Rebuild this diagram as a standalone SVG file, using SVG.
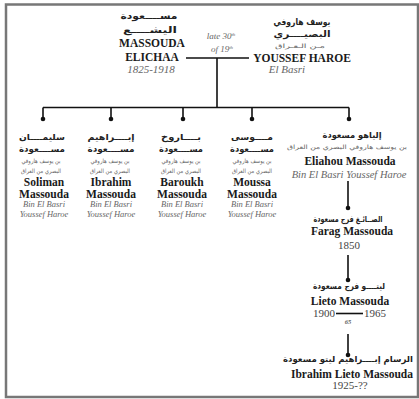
<svg xmlns="http://www.w3.org/2000/svg" width="419" height="399" viewBox="0 0 419 399">
<defs>
<marker id="dot" viewBox="0 0 6 6" refX="3" refY="3" markerWidth="6" markerHeight="6" markerUnits="userSpaceOnUse">
<circle cx="3" cy="3" r="2.3" fill="#111"/>
</marker>
<style>
text{text-anchor:middle}
.ar{font-family:"DejaVu Sans",sans-serif;fill:#222;font-weight:bold}
.ars{font-family:"DejaVu Sans",sans-serif;fill:#666;font-size:6px}
.nm{font-family:"Liberation Serif",serif;font-weight:bold;font-size:11.5px;fill:#1a1a1a}
.it{font-family:"Liberation Serif",serif;font-style:italic;fill:#666}
.yr{font-family:"Liberation Serif",serif;fill:#444;font-size:11px}
.ln{stroke:#111;stroke-width:1.6;fill:none}
.dl{stroke:#111;stroke-width:1.6;fill:none;marker-end:url(#dot)}
</style>
</defs>
<rect x="0" y="0" width="419" height="399" fill="#fff"/>
<rect x="6" y="4.5" width="412" height="392.5" fill="none" stroke="#777" stroke-width="2.5"/>

<g id="connectors">
<path class="ln" d="M186 58H249M217 58V107.5M43 107.5H349"/>
<path class="dl" d="M43 107.5V119"/>
<path class="dl" d="M111 107.5V119"/>
<path class="dl" d="M183 107.5V119"/>
<path class="dl" d="M252 107.5V119"/>
<path class="dl" d="M349 107.5V119"/>
<path class="dl" d="M348 181V208"/>
<path class="dl" d="M348 255V280"/>
<path class="dl" d="M348 334V355"/>
</g>

<g id="marriage-note">
<text class="it" x="221" y="39" font-size="9">late 30<tspan font-size="5" dy="-3">th</tspan></text>
<text class="it" x="222" y="52" font-size="9">of 19<tspan font-size="5" dy="-3">th</tspan></text>
</g>

<g id="massouda-elichaa">
<text class="ar" x="149" y="19" font-size="9" textLength="57" lengthAdjust="spacingAndGlyphs">مســــعودة</text>
<text class="ar" x="150" y="33" font-size="9" textLength="54" lengthAdjust="spacingAndGlyphs">اليشــــع</text>
<text class="nm" x="152" y="47">MASSOUDA</text>
<text class="nm" x="152" y="61">ELICHAA</text>
<text class="it" x="151" y="73" font-size="11">1825-1918</text>
</g>

<g id="youssef-haroe">
<text class="ar" x="302" y="25" font-size="9" textLength="57" lengthAdjust="spacingAndGlyphs">يوسف هاروفي</text>
<text class="ar" x="302" y="37" font-size="9" textLength="57" lengthAdjust="spacingAndGlyphs">البصيــــري</text>
<text class="ars" x="300" y="48" textLength="50" lengthAdjust="spacingAndGlyphs">مـن الـعـراق</text>
<text class="nm" x="302" y="62">YOUSSEF HAROE</text>
<text class="it" x="287" y="73" font-size="11">El Basri</text>
</g>

<g id="soliman">
<text class="ar" x="42" y="140" font-size="8.5" textLength="46" lengthAdjust="spacingAndGlyphs">سليمــــان</text>
<text class="ar" x="42" y="152" font-size="8.5" textLength="46" lengthAdjust="spacingAndGlyphs">مســــعودة</text>
<text class="ars" x="41" y="163" textLength="39" lengthAdjust="spacingAndGlyphs">بن يوسف هاروفي</text>
<text class="ars" x="41" y="173" textLength="40" lengthAdjust="spacingAndGlyphs">البصري من العراق</text>
<text class="nm" x="44" y="186">Soliman</text>
<text class="nm" x="44" y="198">Massouda</text>
<text class="it" x="44" y="207" font-size="8.5">Bin El Basri</text>
<text class="it" x="44" y="217" font-size="8.5">Youssef Haroe</text>
</g>

<g id="ibrahim">
<text class="ar" x="111" y="140" font-size="8.5" textLength="47" lengthAdjust="spacingAndGlyphs">إبــــراهيم</text>
<text class="ar" x="111" y="152" font-size="8.5" textLength="47" lengthAdjust="spacingAndGlyphs">مســــعودة</text>
<text class="ars" x="110" y="163" textLength="39" lengthAdjust="spacingAndGlyphs">بن يوسف هاروفي</text>
<text class="ars" x="110" y="173" textLength="40" lengthAdjust="spacingAndGlyphs">البصري من العراق</text>
<text class="nm" x="111" y="186">Ibrahim</text>
<text class="nm" x="111" y="198">Massouda</text>
<text class="it" x="111" y="207" font-size="8.5">Bin El Basri</text>
<text class="it" x="111" y="217" font-size="8.5">Youssef Haroe</text>
</g>

<g id="baroukh">
<text class="ar" x="181" y="140" font-size="8.5" textLength="40" lengthAdjust="spacingAndGlyphs">بــــاروخ</text>
<text class="ar" x="181" y="152" font-size="8.5" textLength="44" lengthAdjust="spacingAndGlyphs">مســــعودة</text>
<text class="ars" x="181" y="163" textLength="39" lengthAdjust="spacingAndGlyphs">بن يوسف هاروفي</text>
<text class="ars" x="181" y="173" textLength="40" lengthAdjust="spacingAndGlyphs">البصري من العراق</text>
<text class="nm" x="182" y="186">Baroukh</text>
<text class="nm" x="182" y="198">Massouda</text>
<text class="it" x="182" y="207" font-size="8.5">Bin El Basri</text>
<text class="it" x="182" y="217" font-size="8.5">Youssef Haroe</text>
</g>

<g id="moussa">
<text class="ar" x="252" y="140" font-size="8.5" textLength="42" lengthAdjust="spacingAndGlyphs">مــــوسى</text>
<text class="ar" x="252" y="152" font-size="8.5" textLength="44" lengthAdjust="spacingAndGlyphs">مســــعودة</text>
<text class="ars" x="252" y="163" textLength="39" lengthAdjust="spacingAndGlyphs">بن يوسف هاروفي</text>
<text class="ars" x="252" y="173" textLength="40" lengthAdjust="spacingAndGlyphs">البصري من العراق</text>
<text class="nm" x="252" y="186">Moussa</text>
<text class="nm" x="252" y="198">Massouda</text>
<text class="it" x="252" y="207" font-size="8.5">Bin El Basri</text>
<text class="it" x="252" y="217" font-size="8.5">Youssef Haroe</text>
</g>

<g id="eliahou">
<text class="ar" x="352" y="138" font-size="8.5" textLength="59" lengthAdjust="spacingAndGlyphs">إلياهو مسعودة</text>
<text class="ars" x="347" y="149" textLength="120" lengthAdjust="spacingAndGlyphs">بن يوسف هاروفي البصري  من العراق</text>
<text class="nm" x="350" y="165">Eliahou Massouda</text>
<text class="it" x="349" y="178" font-size="10.5">Bin  El Basri Youssef Haroe</text>
</g>

<g id="farag">
<text class="ar" x="348" y="222" font-size="8.5" textLength="69" lengthAdjust="spacingAndGlyphs">الصــائـغ فرج مسعودة</text>
<text class="nm" x="352" y="235">Farag Massouda</text>
<text class="yr" x="349" y="249">1850</text>
</g>

<g id="lieto">
<text class="ar" x="349" y="289" font-size="8.5" textLength="72" lengthAdjust="spacingAndGlyphs">ليتــــو فرج مسعودة</text>
<text class="nm" x="350" y="305">Lieto Massouda</text>
<text class="yr" x="324" y="317">1900</text>
<path class="ln" d="M336 313.5H363" stroke-width="1"/>
<text class="yr" x="375" y="317">1965</text>
<text class="it" x="348" y="324" font-size="6.5" font-weight="bold" fill="#333">65</text>
</g>

<g id="ibrahim-lieto">
<text class="ar" x="348" y="362" font-size="8.5" textLength="130" lengthAdjust="spacingAndGlyphs">الرسام إبــــراهيم ليتو مسعودة</text>
<text class="nm" x="352" y="378">Ibrahim Lieto Massouda</text>
<text class="yr" x="350" y="389" font-size="10">1925-??</text>
</g>
</svg>
